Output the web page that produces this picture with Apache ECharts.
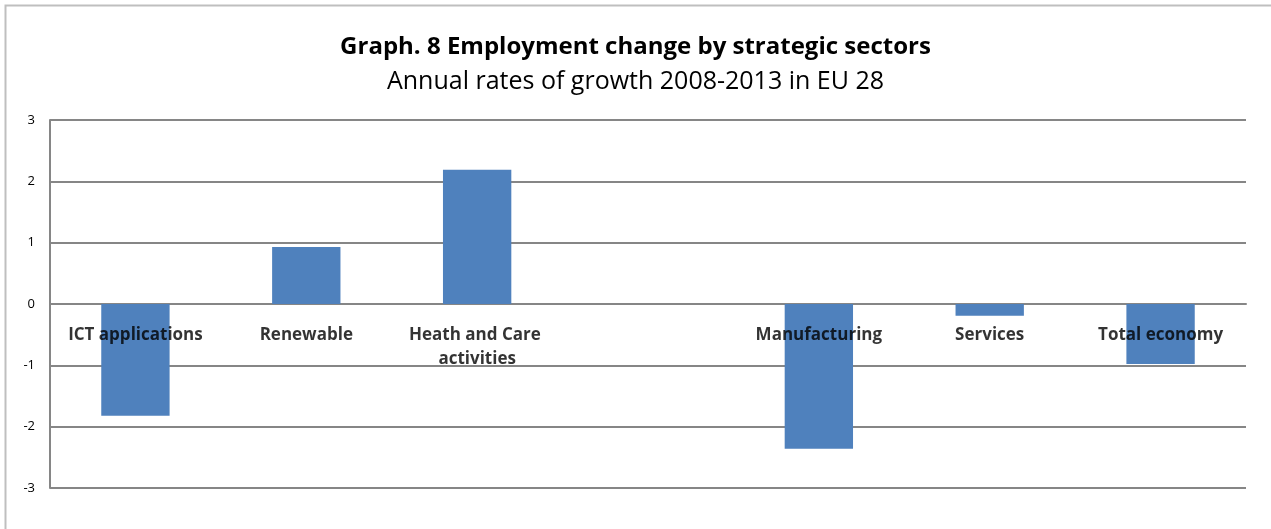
<!DOCTYPE html>
<html>
<head>
<meta charset="utf-8">
<script src="https://cdn.jsdelivr.net/npm/echarts@6/dist/echarts.min.js"></script>
<style>
  html, body { margin: 0; padding: 0; background: #ffffff; }
  #chart { width: 1271px; height: 529px; }
</style>
</head>
<body>
<div id="chart"></div>
<script>
// Sectors (one blank slot separates strategic sectors from the broad aggregates)
const sectors = ['ICT applications', 'Renewable', 'Heath and Care activities', '', 'Manufacturing', 'Services', 'Total economy'];
// Annual employment growth rates, %, 2008-2013
const growthRates = [-1.82, 0.93, 2.19, null, -2.36, -0.19, -0.98];
const yTicks = { min: -3, max: 3, step: 1 };

const chart = echarts.init(document.getElementById('chart'));
const gridColor = '#868686';

// Sector names sit just under the zero line, anchored at value 0 of each category
const zeroAnchors = sectors.map(function (name) { return name ? 0 : null; });

chart.setOption({
  animation: false,
  title: {
    text: 'Graph. 8 Employment change by strategic sectors',
    subtext: 'Annual rates of growth 2008-2013 in EU 28',
    left: 'center',
    top: 30,
    itemGap: 10,
    textStyle: { fontFamily: 'Open Sans', fontWeight: 'bold', fontSize: 24, color: '#000' },
    subtextStyle: { fontFamily: 'Open Sans', fontSize: 25, color: '#000' }
  },
  graphic: [{
    type: 'rect',
    shape: { x: 5.5, y: 5.5, width: 1400, height: 700 },
    style: { fill: 'none', stroke: '#bfbfbf', lineWidth: 2 },
    silent: true
  }],
  grid: { left: 50, right: 25, top: 120, bottom: 41, containLabel: false, outerBoundsMode: 'none' },
  xAxis: {
    type: 'category',
    data: sectors,
    axisLine: { onZero: true, lineStyle: { color: gridColor, width: 2 } },
    axisTick: { show: false },
    axisLabel: { show: false }
  },
  yAxis: {
    type: 'value',
    min: yTicks.min,
    max: yTicks.max,
    interval: yTicks.step,
    axisLine: { show: true, lineStyle: { color: gridColor, width: 2 } },
    axisTick: { show: false },
    splitLine: { lineStyle: { color: gridColor, width: 2 } },
    axisLabel: { margin: 15, fontFamily: 'Open Sans', fontSize: 13, color: '#000' }
  },
  series: [{
    type: 'bar',
    data: growthRates,
    barWidth: '40%',
    itemStyle: { color: '#4f81bd' },
    z: 2
  }, {
    type: 'scatter',
    data: zeroAnchors,
    symbolSize: 0,
    silent: true,
    z: 10,
    label: {
      show: true,
      position: 'bottom',
      distance: 19,
      formatter: function (p) { return p.name; },
      width: 150,
      overflow: 'break',
      lineHeight: 24,
      align: 'center',
      fontFamily: 'Open Sans',
      fontWeight: 'bold',
      fontSize: 17,
      color: '#000'
    }
  }]
});
</script>
</body>
</html>
